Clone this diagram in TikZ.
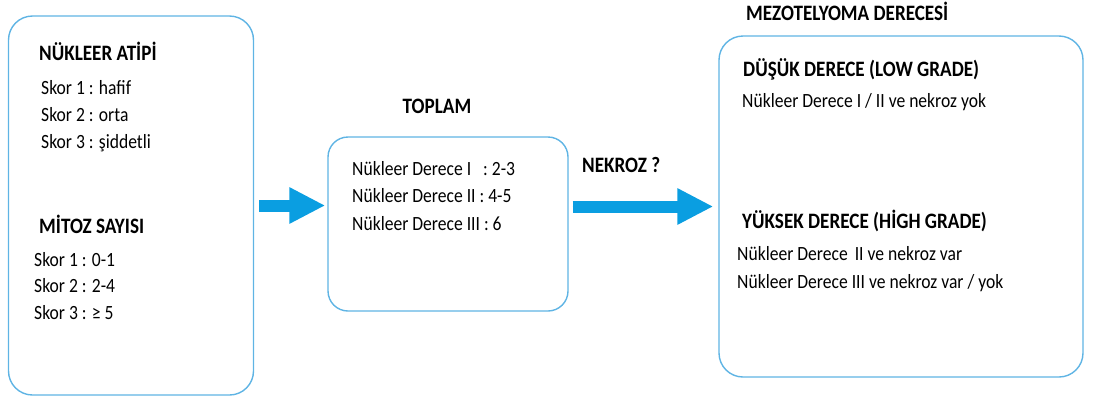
\documentclass[tikz,border=0pt]{standalone}
\usepackage{fontspec}
\setmainfont{Carlito}[FakeStretch=0.87]
\usetikzlibrary{arrows.meta}
\definecolor{boxline}{RGB}{95,180,228}
\definecolor{arrowblue}{RGB}{10,158,225}
\tikzset{
  panel/.style={draw=boxline, line width=1.4pt, rounded corners=24pt, inner sep=0pt},
  head/.style={anchor=west, inner sep=0pt, font=\fontsize{22}{26}\selectfont\bfseries, text height=15pt, text depth=4pt},
  body/.style={anchor=west, inner sep=0pt, font=\fontsize{20.2}{24}\selectfont, text height=14pt, text depth=4pt},
  bigarrow/.style={draw=arrowblue, line width=12pt, -{Triangle[width=34pt,length=36pt]}, fill=arrowblue}
}
\begin{document}
\begin{tikzpicture}[x=1pt,y=-1pt]
\useasboundingbox (0,0) rectangle (1094,397);
% boxes
\node[panel, minimum width=245pt, minimum height=379pt] (left) at (131,205.5) {};
\node[panel, minimum width=240pt, minimum height=174pt, rounded corners=20pt] (mid) at (448,224) {};
\node[panel, minimum width=364pt, minimum height=341pt] (right) at (901,206.5) {};
% left texts
\node[head] (na) at (39,55) {NÜKLEER ATİPİ};
\node[body] (na1) at (41,89) {Skor 1 : hafif};
\node[body] (na2) at (41,116) {Skor 2 : orta};
\node[body] (na3) at (41,143) {Skor 3 : şiddetli};
\node[head] (ms) at (39,228) {MİTOZ SAYISI};
\node[body] (ms1) at (34,261) {Skor 1 : 0-1};
\node[body] (ms2) at (34,287) {Skor 2 : 2-4};
\node[body] (ms3) at (34,314) {Skor 3 : ≥ 5};
% middle texts
\node[head, anchor=center] (top) at (437,108) {TOPLAM};
\node[body] (d1) at (352,170) {Nükleer Derece I\hspace{12pt}: 2-3};
\node[body] (d2) at (352,197) {Nükleer Derece II\hspace{4pt}: 4-5};
\node[body] (d3) at (352,225) {Nükleer Derece III : 6};
% right texts
\node[head] (nek) at (582,167) {NEKROZ ?};
\node[head] (mez) at (746,15) {MEZOTELYOMA DERECESİ};
\node[head] (low) at (743,71) {DÜŞÜK DERECE (LOW GRADE)};
\node[body] (low1) at (742,102) {Nükleer Derece I / II ve nekroz yok};
\node[head] (high) at (742,223) {YÜKSEK DERECE (HİGH GRADE)};
\node[body] (high1) at (737,255) {Nükleer Derece\hspace{7pt}II ve nekroz var};
\node[body] (high2) at (737,283) {Nükleer Derece III ve nekroz var / yok};
% arrows
\draw[bigarrow, shorten <=5pt, shorten >=2pt] (left.east) -- (left.east -| mid.west);
\draw[bigarrow, shorten <=4pt, shorten >=5pt] (mid.east |- right.west) -- (right.west);
\end{tikzpicture}
\end{document}
